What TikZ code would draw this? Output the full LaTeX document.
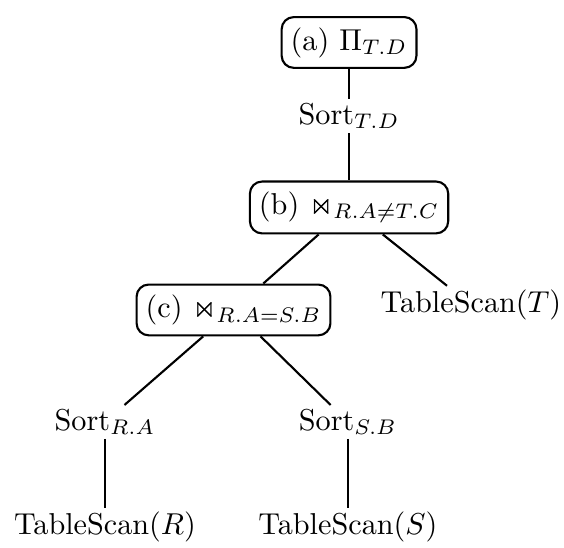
\documentclass[tikz,border=0pt]{standalone}
\usepackage{amsmath}
\usepackage{amssymb}
\usepackage{tikz}
\usetikzlibrary{positioning}

\begin{document}
\begin{tikzpicture}[
line width=0.7pt,
op-node/.style = {draw=black, rounded corners=4pt, inner xsep=3pt, inner ysep=3.4pt},
plain-node/.style = {inner sep=1pt}
]
\useasboundingbox (0,0) rectangle (6.56,-6.373);

\node [op-node] (proj) at (4.06,-0.494) {(a) $\Pi_{T.D}$};
\node [plain-node] (sortTD) at (4.06,-1.35) {Sort$_{T.D}$};

\node [op-node] (joinB) at (4.06,-2.413) {(b) $\Join_{R.A\neq T.C}$};
\node [op-node] (joinC) at (2.716,-3.605) {(c) $\Join_{R.A=S.B}$};
\node [plain-node] (scanT) at (5.478,-3.547) {TableScan$(T)$};

\node [plain-node] (sortRA) at (1.221,-4.908) {Sort$_{R.A}$};
\node [plain-node] (sortSB) at (4.047,-4.908) {Sort$_{S.B}$};

\node [plain-node, below=0.8cm of sortRA] (scanR) {TableScan$(R)$};
\node [plain-node, below=0.8cm of sortSB] (scanS) {TableScan$(S)$};

% edges
\draw (proj) -- (sortTD);
\draw (sortTD) -- (joinB);
\draw (joinB) -- (joinC);
\draw (joinB) -- (scanT);
\draw (joinC) -- (sortRA);
\draw (joinC) -- (sortSB);
\draw (sortRA) -- (scanR);
\draw (sortSB) -- (scanS);

\end{tikzpicture}
\end{document}
